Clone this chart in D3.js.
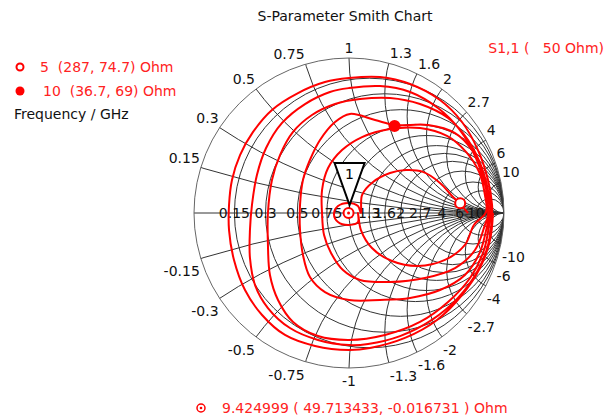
<!DOCTYPE html>
<html>
<head>
<meta charset="utf-8">
<script src="https://cdn.jsdelivr.net/npm/d3@7"></script>
<style>
  body { margin: 0; background: #fff; }
  svg { font-family: "DejaVu Sans", sans-serif; font-size: 14px; }
</style>
</head>
<body>
<div id="chart"></div>
<script>
// grid values (normalised resistance / reactance)
const rValues = [0.15, 0.3, 0.5, 0.75, 1, 1.3, 1.6, 2, 2.7, 4, 6, 10];
const xValues = [0.15, 0.3, 0.5, 0.75, 1, 1.3, 1.6, 2, 2.7, 4, 6, 10];

// S1,1 trace, reflection coefficient (re, im)
const traceRe = [
  0.929, 0.910, 0.845, 0.729, 0.568, 0.361, 0.135, 0, -0.219, -0.413, -0.561, -0.671, -0.742, -0.774, -0.774,
  -0.755, -0.703, -0.619, -0.497, -0.329, -0.155, 0, 0.200, 0.394, 0.587, 0.729, 0.832, 0.897, 0.923,
  0.923, 0.897, 0.826, 0.703, 0.535, 0.329, 0.123, 0, -0.200, -0.381, -0.523, -0.606, -0.639, -0.639, -0.626,
  -0.594, -0.535, -0.432, -0.284, -0.123, 0, 0.200, 0.394, 0.574, 0.716, 0.819, 0.884, 0.916,
  0.910, 0.871, 0.781, 0.639, 0.458, 0.232, 0, -0.200, -0.361, -0.458, -0.510, -0.523, -0.523,
  -0.497, -0.445, -0.361, -0.239, -0.090, 0.071, 0.265, 0.458, 0.639, 0.768, 0.858, 0.903, 0.910,
  0.897, 0.845, 0.748, 0.587, 0.394, 0.200, 0, -0.155, -0.252, -0.297, -0.316, -0.316, -0.297, -0.252,
  -0.187, -0.090, 0.006, 0.168, 0.297, 0.510, 0.684, 0.794, 0.858, 0.890, 0.897,
  0.877, 0.813, 0.684, 0.490, 0.265, 0.071, -0.039, -0.116, -0.161, -0.174, -0.174, -0.135, -0.045, 0.084,
  0.265, 0.458, 0.632, 0.755, 0.839, 0.877, 0.884,
  0.806, 0.748, 0.619, 0.445, 0.277, 0.148, 0.077, 0.058,
  0.058, 0, -0.071, -0.097, -0.071, 0, 0.058, 0.077,
  0.084, 0.155, 0.265, 0.368, 0.477, 0.587, 0.665, 0.710, 0.768
];
const traceIm = [
  0, -0.174, -0.355, -0.529, -0.690, -0.806, -0.871, -0.884, -0.858, -0.787, -0.658, -0.497, -0.303, -0.110, 0.052,
  0.213, 0.374, 0.523, 0.665, 0.774, 0.845, 0.871, 0.877, 0.832, 0.729, 0.587, 0.406, 0.213, 0.052,
  -0.013, -0.206, -0.381, -0.548, -0.690, -0.794, -0.845, -0.852, -0.819, -0.742, -0.613, -0.465, -0.290, -0.110, 0.052,
  0.245, 0.419, 0.581, 0.703, 0.781, 0.806, 0.819, 0.781, 0.677, 0.535, 0.355, 0.161, 0.019,
  -0.032, -0.239, -0.419, -0.574, -0.703, -0.787, -0.819, -0.794, -0.703, -0.561, -0.400, -0.206, 0,
  0.213, 0.374, 0.523, 0.632, 0.703, 0.735, 0.742, 0.703, 0.613, 0.471, 0.290, 0.116, -0.013,
  -0.058, -0.252, -0.400, -0.497, -0.548, -0.561, -0.561, -0.510, -0.413, -0.271, -0.110, 0.052, 0.213, 0.342,
  0.471, 0.587, 0.639, 0.600, 0.568, 0.568, 0.516, 0.406, 0.265, 0.116, -0.013,
  -0.077, -0.239, -0.355, -0.419, -0.445, -0.432, -0.368, -0.258, -0.142, 0, 0.148, 0.290, 0.406, 0.490,
  0.542, 0.548, 0.497, 0.394, 0.265, 0.116, 0.006,
  -0.077, -0.206, -0.303, -0.342, -0.310, -0.226, -0.110, 0,
  -0.058, -0.077, -0.058, -0.006, 0.045, 0.065, 0.045, 0,
  0.116, 0.200, 0.258, 0.277, 0.265, 0.194, 0.110, 0.065, 0
];

// markers: frequency (GHz), resistance, reactance (Ohm)
const markerFreq = [5, 10];
const markerR    = [287, 36.7];
const markerX    = [74.7, 69];
const markerKind = ["open", "filled"];

const m1Freq = "9.424999";
const m1R    = "49.713433";
const m1X    = "-0.016731";
const Z0     = 50;

const width  = 605;
const height = 420;
const cx = 349, cy = 213, R = 155;

const svg = d3.select("#chart")
  .append("svg")
  .attr("width", width)
  .attr("height", height);

const x = d3.scaleLinear().domain([-1, 1]).range([cx - R, cx + R]);
const y = d3.scaleLinear().domain([-1, 1]).range([cy + R, cy - R]);

function gamma(r, xx) {
  // (z-1)/(z+1)
  const dr = r + 1, den = dr * dr + xx * xx;
  return [((r - 1) * dr + xx * xx) / den, (xx * dr - (r - 1) * xx) / den];
}

svg.append("defs").append("clipPath")
  .attr("id", "unit")
  .append("ellipse")
  .attr("cx", x(0)).attr("cy", y(0))
  .attr("rx", x(1) - x(0)).attr("ry", y(-1) - y(0));

const grid = svg.append("g")
  .attr("clip-path", "url(#unit)")
  .attr("fill", "none")
  .attr("stroke", "#333")
  .attr("stroke-width", 1);

grid.selectAll("ellipse.r")
  .data(rValues)
  .enter()
  .append("ellipse")
  .attr("class", "r")
  .attr("cx", d => x(d / (1 + d)))
  .attr("cy", y(0))
  .attr("rx", d => x(1 / (1 + d)) - x(0))
  .attr("ry", d => y(0) - y(1 / (1 + d)));

const xArcs = xValues.flatMap(v => [v, -v]);
grid.selectAll("ellipse.x")
  .data(xArcs)
  .enter()
  .append("ellipse")
  .attr("class", "x")
  .attr("cx", x(1))
  .attr("cy", d => y(1 / d))
  .attr("rx", d => x(1 / Math.abs(d)) - x(0))
  .attr("ry", d => y(0) - y(1 / Math.abs(d)));

grid.append("line")
  .attr("x1", x(-1)).attr("x2", x(1))
  .attr("y1", y(0)).attr("y2", y(0));

svg.append("ellipse")
  .attr("cx", x(0)).attr("cy", y(0))
  .attr("rx", x(1) - x(0)).attr("ry", y(-1) - y(0))
  .attr("fill", "none")
  .attr("stroke", "#666");

// real axis labels
svg.append("g")
  .selectAll("text")
  .data(rValues)
  .enter()
  .append("text")
  .attr("x", d => x(gamma(d, 0)[0]))
  .attr("y", y(0))
  .attr("dy", "0.36em")
  .attr("text-anchor", "middle")
  .attr("fill", "#111")
  .text(d => d);

// rim labels
svg.append("g")
  .selectAll("text")
  .data(xArcs)
  .enter()
  .append("text")
  .each(function(d) {
    const g = gamma(0, d);
    const px = x(g[0]), py = y(g[1]);
    const anchor = Math.abs(g[0]) < 0.01 ? "middle" : (g[0] < 0 ? "end" : "start");
    d3.select(this)
      .attr("x", px + (anchor === "end" ? -1 : anchor === "start" ? 1 : 0))
      .attr("y", d > 0 ? py - 5 : py + 18)
      .attr("text-anchor", anchor);
  })
  .attr("fill", "#111")
  .text(d => d);

// trace
const tracePts = traceRe.map((d, i) => [d, traceIm[i]]);
svg.append("path")
  .datum(tracePts)
  .attr("fill", "none")
  .attr("stroke", "#f00")
  .attr("stroke-width", 2)
  .attr("d", d3.line().x(d => x(d[0])).y(d => y(d[1])).curve(d3.curveCatmullRom));

// markers on the chart
markerFreq.forEach((f, i) => {
  const g = gamma(markerR[i] / Z0, markerX[i] / Z0);
  svg.append("circle")
    .attr("cx", x(g[0])).attr("cy", y(g[1]))
    .attr("r", 5)
    .attr("fill", markerKind[i] === "open" ? "#fff" : "#f00")
    .attr("stroke", "#f00")
    .attr("stroke-width", 2);
});

const m1 = gamma(+m1R / Z0, +m1X / Z0);
const m1x = x(m1[0]), m1y = y(m1[1]);
svg.append("circle").attr("cx", m1x).attr("cy", m1y).attr("r", 5)
  .attr("fill", "#fff").attr("stroke", "#f00").attr("stroke-width", 2);
svg.append("circle").attr("cx", m1x).attr("cy", m1y).attr("r", 1.5).attr("fill", "#f00");

svg.append("path")
  .attr("d", `M${m1x - 14},${m1y - 50}L${m1x + 16},${m1y - 50}L${m1x + 1},${m1y - 8}Z`)
  .attr("fill", "#fff")
  .attr("stroke", "#000")
  .attr("stroke-width", 2);
svg.append("text")
  .attr("x", m1x + 1).attr("y", m1y - 34)
  .attr("text-anchor", "middle")
  .text("1");

// titles and legends
svg.append("text")
  .attr("x", 345).attr("y", 21)
  .attr("text-anchor", "middle")
  .attr("fill", "#111")
  .text("S-Parameter Smith Chart");

svg.append("text")
  .attr("x", 604).attr("y", 53)
  .attr("text-anchor", "end")
  .attr("fill", "#f22")
  .style("white-space", "pre")
  .text("S1,1 (   50 Ohm)");

const legend = svg.append("g");
markerFreq.forEach((f, i) => {
  const ly = 67 + i * 24;
  legend.append("circle")
    .attr("cx", 20).attr("cy", ly)
    .attr("r", markerKind[i] === "open" ? 3.5 : 4.5)
    .attr("fill", markerKind[i] === "open" ? "#fff" : "#f00")
    .attr("stroke", "#f00")
    .attr("stroke-width", markerKind[i] === "open" ? 2 : 0);
  legend.append("text")
    .attr("x", i === 0 ? 40 : 43).attr("y", ly + 5)
    .attr("fill", "#f22")
    .style("white-space", "pre")
    .text(`${f}  (${markerR[i]}, ${markerX[i]}) Ohm`);
});
legend.append("text")
  .attr("x", 14).attr("y", 119)
  .attr("fill", "#111")
  .text("Frequency / GHz");

svg.append("circle").attr("cx", 201).attr("cy", 408).attr("r", 4)
  .attr("fill", "#fff").attr("stroke", "#f00").attr("stroke-width", 1.5);
svg.append("circle").attr("cx", 201).attr("cy", 408).attr("r", 1.3).attr("fill", "#f00");
svg.append("text")
  .attr("x", 222).attr("y", 413)
  .attr("fill", "#f22")
  .style("white-space", "pre")
  .text(`${m1Freq} ( ${m1R}, ${m1X} ) Ohm`);
</script>
</body>
</html>
